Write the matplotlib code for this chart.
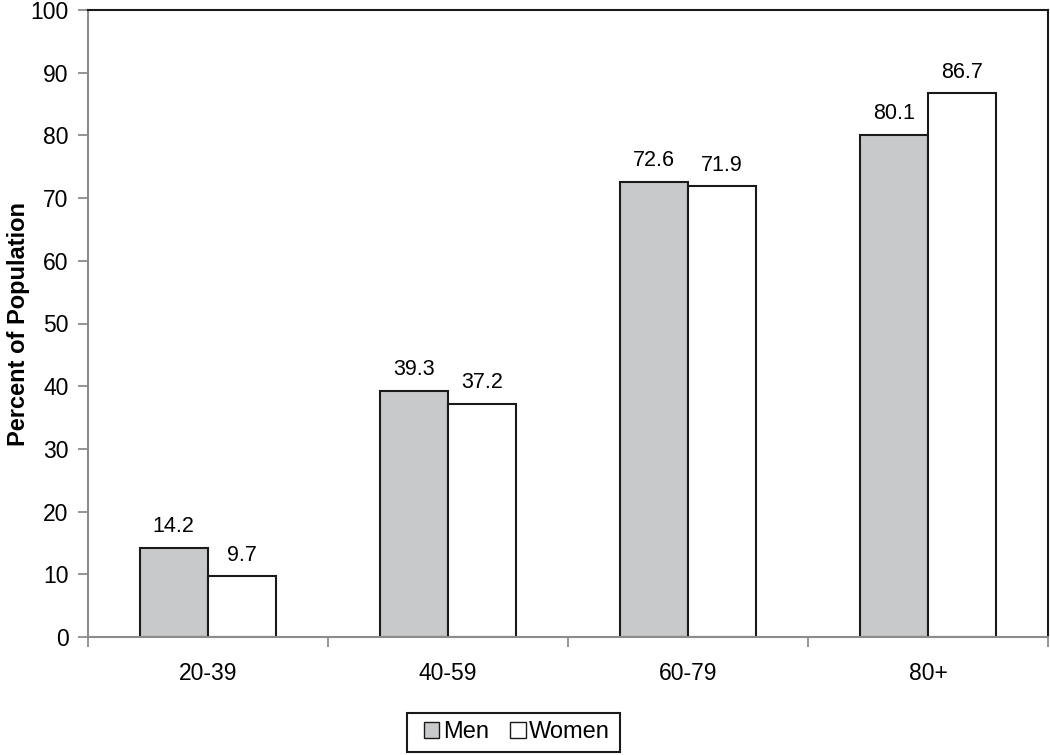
import matplotlib.pyplot as plt
import numpy as np
from matplotlib.patches import Patch, Rectangle

plt.rcParams['font.family'] = ['Liberation Sans', 'DejaVu Sans']

categories = ['20-39', '40-59', '60-79', '80+']
men = [14.2, 39.3, 72.6, 80.1]
women = [9.7, 37.2, 71.9, 86.7]

W, H = 1050, 755
fig = plt.figure(figsize=(W/100, H/100), dpi=100)
ax = fig.add_axes([88/W, 1 - 637/H, 960/W, 627/H])

x = np.arange(len(categories))
width = 0.285
ax.bar(x - width/2, men, width, color='#c8c9cb', edgecolor='#1a1a1a', linewidth=1.5, label='Men')
ax.bar(x + width/2, women, width, color='white', edgecolor='#1a1a1a', linewidth=1.5, label='Women')

for i in range(len(categories)):
    ax.text(x[i] - width/2, men[i] + 1.7, f'{men[i]:.1f}', ha='center', va='bottom', fontsize=15.5)
    ax.text(x[i] + width/2, women[i] + 1.7, f'{women[i]:.1f}', ha='center', va='bottom', fontsize=15.5)

ax.set_xlim(-0.5, len(categories) - 0.5)
ax.set_ylim(0, 100)
ax.set_yticks(range(0, 101, 10))
ax.tick_params(axis='y', labelsize=16.5, length=7, width=1.3, color='#8c8c8c', pad=7)

# category boundary ticks on x axis
ax.set_xticks(np.arange(-0.5, len(categories), 1.0))
ax.set_xticklabels([])
ax.set_xticks(x, minor=True)
ax.set_xticklabels(categories, minor=True, fontsize=16.5)
ax.tick_params(axis='x', which='major', length=7, width=1.3, color='#8c8c8c')
ax.tick_params(axis='x', which='minor', length=0, pad=18)

for s in ['left', 'bottom']:
    ax.spines[s].set_color('#8c8c8c')
    ax.spines[s].set_linewidth(1.5)
for s in ['top', 'right']:
    ax.spines[s].set_color('#1a1a1a')
    ax.spines[s].set_linewidth(1.5)

ax.set_ylabel('Percent of Population', fontsize=17, fontweight='bold')
ax.yaxis.set_label_coords((30 - 88) / 960, 0.5)

handles = [Patch(facecolor='#c8c9cb', edgecolor='#1a1a1a', label='Men'),
           Patch(facecolor='white', edgecolor='#1a1a1a', label='Women')]
leg = fig.legend(handles=handles, loc='center', bbox_to_anchor=(517/W, 1 - 732/H), ncol=2,
                 fontsize=17, frameon=False, handlelength=0.65, handleheight=0.65,
                 handletextpad=0.15, columnspacing=0.9)
# legend frame
fig.patches.append(Rectangle((407/W, 1 - 752/H), 213/W, 39/H, transform=fig.transFigure,
                             fill=False, edgecolor='#1a1a1a', linewidth=1.5))

plt.savefig('out.png', dpi=100)
